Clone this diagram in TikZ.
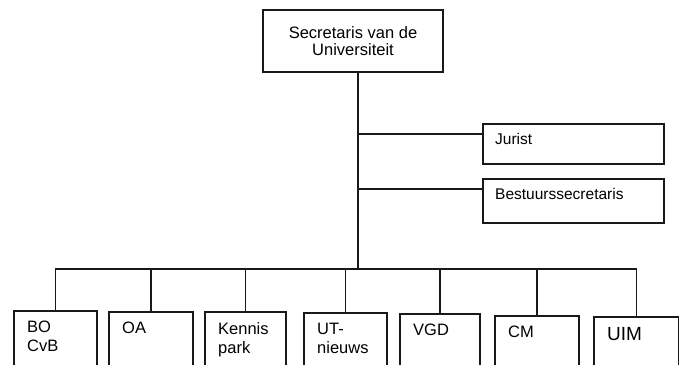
\documentclass[tikz,border=0pt]{standalone}
\usepackage{fontspec}
\setmainfont{Liberation Sans}
\usetikzlibrary{positioning}
\colorlet{orgline}{black!90}

\begin{document}
\begin{tikzpicture}[x=1pt,y=-1pt,
    orgbox/.style={draw=orgline, line width=1.5pt, inner sep=0pt},
    orgtext/.style={align=left, anchor=north west, inner sep=0pt}]
            \useasboundingbox (0,0) rectangle (679,364);
            \clip (0,0) rectangle (679,364);
            % top
            \node[orgbox, minimum width=180pt, minimum height=62pt, align=center,
                font=\fontsize{16.5}{17}\selectfont] (sec) at (353,41) {Secretaris van de\\Universiteit};
            \coordinate (bus) at (358,269);
            \draw[orgline, line width=1.5pt] (sec.south -| bus) -- (bus);
            % staff
            \foreach \name/\ty/\h/\txt in {jur/123/40/Jurist,bst/178/44/Bestuurssecretaris}{
                \node[orgbox, anchor=north west, minimum width=181pt, minimum height=\h pt] (\name) at (482,\ty) {};
                \node[orgtext, font=\fontsize{15.5}{17}\selectfont, below right=10pt and 13pt of \name.north west] (\name txt) {\txt};
                \coordinate (\name in) at ([yshift=-11pt]\name.north west);
                \draw[orgline, line width=1.5pt] (\name in) -- (\name in -| bus);
            }
            % departments
            \foreach \name/\lx/\rx/\ty/\fs/\txt in {bo/13/96/310/16.5/{BO\\CvB},
                oa/108/192/311/16.5/OA, kp/204/285/311/16.5/{Kennis\\park},
                ut/303/386/312/16.5/{UT-\\nieuws}, vgd/399/479/313/16.5/VGD,
                cm/494/578/315/16.5/CM, uim/593/678/316/19/UIM}{
                \node[orgbox, anchor=north west, minimum width={(\rx-\lx)*1pt}, minimum height=62pt] (\name) at (\lx,\ty) {};
                \node[orgtext, font=\fontsize{\fs}{19}\selectfont, below right=11pt and 14pt of \name.north west] (\name txt) {\txt};
                \draw[orgline, line width=1.5pt] (bus) -| (\name.north);
            }
        \end{tikzpicture}
\end{document}
